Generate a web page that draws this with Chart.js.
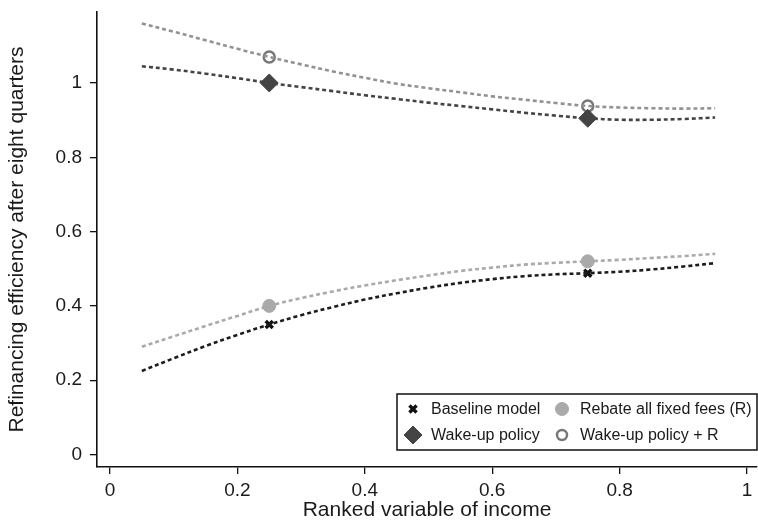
<!DOCTYPE html>
<html>
<head>
<meta charset="utf-8">
<script src="https://cdn.jsdelivr.net/npm/chart.js@4.4.1/dist/chart.umd.min.js"></script>
<style>
  body { margin: 0; background: #fff; }
  #wrap { width: 758px; height: 528px; }
</style>
</head>
<body>
<div id="wrap"><canvas id="chart1" width="758" height="528"></canvas></div>
<script>
// fitted curves
var curveX = [0.05, 0.10, 0.15, 0.20, 0.25, 0.30, 0.35, 0.40, 0.45, 0.50,
              0.55, 0.60, 0.65, 0.70, 0.75, 0.80, 0.85, 0.90, 0.95];
var baselineCurve = [0.225, 0.259, 0.292, 0.322, 0.350, 0.375, 0.397, 0.417, 0.434, 0.449,
                     0.462, 0.472, 0.480, 0.485, 0.488, 0.492, 0.498, 0.506, 0.515];
var rebateCurve = [0.290, 0.318, 0.346, 0.373, 0.400, 0.421, 0.439, 0.455, 0.469, 0.482,
                   0.494, 0.503, 0.511, 0.516, 0.520, 0.524, 0.529, 0.534, 0.540];
var wakeCurve = [1.045, 1.036, 1.025, 1.013, 1.000, 0.989, 0.978, 0.967, 0.957, 0.947,
                 0.938, 0.929, 0.920, 0.912, 0.905, 0.901, 0.901, 0.903, 0.907];
var wakeRCurve = [1.160, 1.138, 1.115, 1.092, 1.070, 1.050, 1.031, 1.014, 0.998, 0.986,
                  0.975, 0.964, 0.955, 0.946, 0.938, 0.934, 0.932, 0.931, 0.932];

// simulated points (quartile groups)
var markX = [0.25, 0.75];
var baselineMarks = [0.350, 0.488];
var rebateMarks = [0.400, 0.520];
var wakeMarks = [1.000, 0.905];
var wakeRMarks = [1.070, 0.938];

var xTicks = [0, 0.2, 0.4, 0.6, 0.8, 1];
var yTicks = [0, 0.2, 0.4, 0.6, 0.8, 1];

var legendItems = [
  { text: 'Baseline model', style: 'crossRot', radius: 5, fill: '#111', stroke: '#111', width: 3.4, col: 0, row: 0 },
  { text: 'Rebate all fixed fees (R)', style: 'circle', radius: 6.5, fill: '#aaaaaa', stroke: '#aaaaaa', width: 1, col: 1, row: 0 },
  { text: 'Wake-up policy', style: 'rectRot', radius: 9, fill: '#444444', stroke: '#444444', width: 1, col: 0, row: 1 },
  { text: 'Wake-up policy + R', style: 'circle', radius: 5, fill: 'rgba(0,0,0,0)', stroke: '#777777', width: 2.5, col: 1, row: 1 }
];

function toPoints(xs, ys) {
  var pts = [];
  for (var i = 0; i < xs.length; i++) {
    pts.push({ x: xs[i], y: ys[i] });
  }
  return pts;
}

function curveSet(label, ys, color) {
  return {
    label: label,
    data: toPoints(curveX, ys),
    showLine: true,
    borderColor: color,
    borderWidth: 2.6,
    borderDash: [4, 3],
    tension: 0.35,
    pointRadius: 0
  };
}

function markSet(label, ys, style, radius, fill, stroke, width) {
  return {
    label: label,
    data: toPoints(markX, ys),
    showLine: false,
    pointStyle: style,
    pointRadius: radius,
    pointBackgroundColor: fill,
    pointBorderColor: stroke,
    pointBorderWidth: width
  };
}

var boxLegend = {
  id: 'boxLegend',
  afterDatasetsDraw: function(chart) {
    var ctx = chart.ctx;
    var left = 397, top = 394, w = 360, h = 56;
    ctx.save();
    ctx.fillStyle = '#fff';
    ctx.fillRect(left, top, w, h);
    ctx.strokeStyle = '#111';
    ctx.lineWidth = 1.5;
    ctx.strokeRect(left, top, w, h);
    ctx.font = '16px "Liberation Sans", Arial, sans-serif';
    ctx.textBaseline = 'middle';
    var colMark = [413, 562], colText = [431, 580], rowY = [409, 435];
    legendItems.forEach(function(it) {
      var mx = colMark[it.col], my = rowY[it.row];
      ctx.fillStyle = it.fill;
      ctx.strokeStyle = it.stroke;
      ctx.lineWidth = it.width;
      Chart.helpers.drawPoint(ctx, { pointStyle: it.style, radius: it.radius, rotation: 0, borderWidth: it.width }, mx, my);
      ctx.fillStyle = '#1a1a1a';
      ctx.fillText(it.text, colText[it.col], my + 1);
    });
    ctx.restore();
  }
};

var tickFont = { family: '"Liberation Sans", Arial, sans-serif', size: 19 };
var titleFont = { family: '"Liberation Sans", Arial, sans-serif', size: 21 };

var chart = new Chart(document.getElementById('chart1'), {
  type: 'scatter',
  data: {
    datasets: [
      curveSet('Baseline curve', baselineCurve, '#1c1c1c'),
      curveSet('Rebate curve', rebateCurve, '#aaaaaa'),
      curveSet('Wake-up curve', wakeCurve, '#444444'),
      curveSet('Wake-up + R curve', wakeRCurve, '#929292'),
      markSet('Baseline model', baselineMarks, 'crossRot', 5, '#111', '#111', 3.4),
      markSet('Rebate all fixed fees (R)', rebateMarks, 'circle', 6.5, '#aaaaaa', '#aaaaaa', 1),
      markSet('Wake-up policy', wakeMarks, 'rectRot', 9, '#444444', '#444444', 1),
      markSet('Wake-up policy + R', wakeRMarks, 'circle', 5.5, 'rgba(255,255,255,0)', '#777777', 2.5)
    ]
  },
  options: {
    responsive: false,
    animation: false,
    // no extra room for point radius, the plot box is set by hand
    layout: { autoPadding: false, padding: { top: 12, right: 1, left: 0, bottom: 0 } },
    plugins: {
      legend: { display: false },
      tooltip: { enabled: false }
    },
    scales: {
      x: {
        type: 'linear',
        min: -0.0204,
        max: 1.0157,
        afterBuildTicks: function(scale) {
          scale.ticks = xTicks.map(function(v) { return { value: v }; });
        },
        afterFit: function(scale) {
          scale.height = 61;
          scale.paddingLeft = 0;
          scale.paddingRight = 0;
        },
        grid: { drawOnChartArea: false, drawTicks: true, tickLength: 7, color: '#111', lineWidth: 1.3 },
        border: { display: true, color: '#111', width: 1.6 },
        ticks: {
          color: '#1a1a1a', font: tickFont, padding: 5, maxRotation: 0,
          callback: function(v) { return String(Math.round(v * 10) / 10); }
        },
        title: { display: true, text: 'Ranked variable of income', color: '#1a1a1a', font: titleFont, padding: { top: 0, bottom: 5 } }
      },
      y: {
        type: 'linear',
        min: -0.0336,
        max: 1.191,
        afterBuildTicks: function(scale) {
          scale.ticks = yTicks.map(function(v) { return { value: v }; });
        },
        afterFit: function(scale) {
          scale.width = 97;
          scale.paddingTop = 0;
          scale.paddingBottom = 0;
        },
        grid: { drawOnChartArea: false, drawTicks: true, tickLength: 7, color: '#111', lineWidth: 1.3 },
        border: { display: true, color: '#111', width: 1.6 },
        ticks: {
          color: '#1a1a1a', font: tickFont, padding: 8,
          callback: function(v) { return String(Math.round(v * 10) / 10); }
        },
        title: { display: true, text: 'Refinancing efficiency after eight quarters', color: '#1a1a1a', font: titleFont, padding: { top: 5, bottom: 0 } }
      }
    }
  },
  plugins: [boxLegend]
});
</script>
</body>
</html>
